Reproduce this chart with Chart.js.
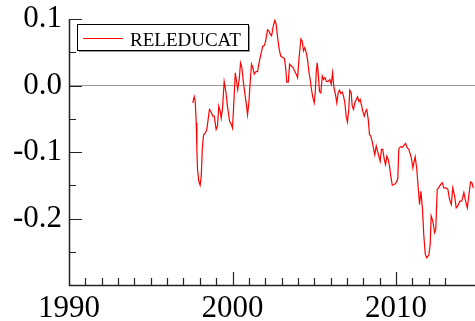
<!DOCTYPE html>
<html>
<head>
<meta charset="utf-8">
<script src="https://cdn.jsdelivr.net/npm/chart.js@4"></script>
<style>
  body { margin: 0; background: #fff; }
  #chart { display: block; }
</style>
</head>
<body>
<canvas id="chart" width="475" height="321"></canvas>
<script>
const SERIES_NAME = 'RELEDUCAT';

// decimal years
const years = [
  1997.57, 1997.66, 1997.72, 1997.78, 1997.82, 1997.86, 1997.94, 1998.02, 1998.09, 1998.15,
  1998.23, 1998.35, 1998.43, 1998.51, 1998.59, 1998.67, 1998.80, 1998.88, 1999.00, 1999.08,
  1999.16, 1999.25, 1999.31, 1999.39, 1999.49, 1999.59, 1999.69, 1999.82, 1999.94, 2000.00,
  2000.06, 2000.17, 2000.25, 2000.32, 2000.41, 2000.49, 2000.57, 2000.67, 2000.75, 2000.86,
  2000.92, 2001.00, 2001.08, 2001.16, 2001.24, 2001.33, 2001.43, 2001.53, 2001.61, 2001.69,
  2001.77, 2001.85, 2001.94, 2002.02, 2002.14, 2002.22, 2002.31, 2002.39, 2002.49, 2002.59,
  2002.67, 2002.75, 2002.86, 2002.95, 2003.08, 2003.18, 2003.26, 2003.32, 2003.41, 2003.49,
  2003.61, 2003.71, 2003.81, 2003.90, 2003.98, 2004.08, 2004.18, 2004.26, 2004.34, 2004.42,
  2004.51, 2004.59, 2004.67, 2004.75, 2004.83, 2004.91, 2005.00, 2005.06, 2005.12, 2005.18,
  2005.24, 2005.32, 2005.40, 2005.49, 2005.57, 2005.65, 2005.75, 2005.85, 2005.95, 2006.04,
  2006.12, 2006.20, 2006.30, 2006.38, 2006.46, 2006.54, 2006.62, 2006.71, 2006.79, 2006.87,
  2006.95, 2007.03, 2007.11, 2007.17, 2007.26, 2007.32, 2007.40, 2007.48, 2007.57, 2007.65,
  2007.73, 2007.81, 2007.89, 2007.97, 2008.06, 2008.14, 2008.21, 2008.30, 2008.38, 2008.46,
  2008.54, 2008.62, 2008.70, 2008.79, 2008.87, 2008.95, 2009.03, 2009.11, 2009.19, 2009.28,
  2009.36, 2009.44, 2009.52, 2009.60, 2009.68, 2009.77, 2009.89, 2010.01, 2010.11, 2010.17,
  2010.28, 2010.38, 2010.48, 2010.58, 2010.69, 2010.78, 2010.93, 2011.03, 2011.09, 2011.17,
  2011.27, 2011.38, 2011.44, 2011.52, 2011.62, 2011.70, 2011.79, 2011.88, 2012.01, 2012.09,
  2012.15, 2012.25, 2012.36, 2012.43, 2012.52, 2012.60, 2012.72, 2012.83, 2012.92, 2013.07,
  2013.17, 2013.27, 2013.38, 2013.47, 2013.58, 2013.68, 2013.78, 2013.90, 2014.02, 2014.15,
  2014.23, 2014.36, 2014.50, 2014.56, 2014.64, 2014.72
];

const values = [
  -0.026, -0.017, -0.024, -0.056, -0.096, -0.126, -0.144, -0.150, -0.136, -0.096,
  -0.074, -0.071, -0.066, -0.051, -0.036, -0.039, -0.046, -0.046, -0.066, -0.061,
  -0.031, -0.039, -0.049, -0.034, 0.006, -0.009, -0.031, -0.054, -0.059, -0.064,
  -0.036, 0.019, 0.006, -0.006, 0.009, 0.034, 0.027, 0.004, -0.011, -0.031,
  -0.044, -0.026, 0.004, 0.032, 0.027, 0.017, 0.021, 0.021, 0.032, 0.042,
  0.051, 0.059, 0.060, 0.066, 0.084, 0.082, 0.077, 0.075, 0.089, 0.098,
  0.092, 0.074, 0.054, 0.044, 0.042, 0.040, 0.024, 0.005, 0.005, 0.032,
  0.029, 0.027, 0.021, 0.017, 0.012, 0.044, 0.070, 0.067, 0.052, 0.057,
  0.049, 0.039, 0.021, 0.009, -0.006, -0.018, -0.026, -0.011, 0.019, 0.034,
  0.019, -0.009, -0.011, 0.014, 0.009, 0.012, 0.006, 0.006, 0.009, 0.002,
  0.019, -0.003, -0.014, -0.026, -0.011, -0.007, -0.012, -0.010, -0.016, -0.026,
  -0.046, -0.055, -0.036, -0.007, -0.011, -0.031, -0.036, -0.026, -0.021, -0.017,
  -0.024, -0.021, -0.030, -0.039, -0.046, -0.039, -0.036, -0.051, -0.074, -0.076,
  -0.084, -0.094, -0.104, -0.091, -0.099, -0.106, -0.114, -0.096, -0.096, -0.111,
  -0.119, -0.106, -0.111, -0.121, -0.136, -0.150, -0.149, -0.146, -0.140, -0.095,
  -0.092, -0.093, -0.090, -0.087, -0.094, -0.096, -0.108, -0.124, -0.116, -0.107,
  -0.126, -0.161, -0.179, -0.159, -0.186, -0.226, -0.254, -0.259, -0.255, -0.239,
  -0.196, -0.204, -0.221, -0.216, -0.156, -0.154, -0.149, -0.146, -0.154, -0.154,
  -0.156, -0.171, -0.179, -0.154, -0.166, -0.184, -0.181, -0.174, -0.174, -0.161,
  -0.171, -0.184, -0.156, -0.145, -0.146, -0.154
];

const xRange = [1990, 2014.83];
const yRange = [-0.3, 0.1];

const FONT = "'Liberation Serif', 'Times New Roman', serif";

function noPad(scale) {
  scale.paddingTop = 0;
  scale.paddingBottom = 0;
  scale.paddingLeft = 0;
  scale.paddingRight = 0;
}

// axis lines, inward tick marks and the boxed legend
const frame = {
  id: 'frame',
  afterDraw(chart) {
    const { ctx, chartArea: a, scales } = chart;
    ctx.save();
    ctx.strokeStyle = '#222';
    ctx.lineWidth = 1.5;
    ctx.beginPath();
    ctx.moveTo(a.left + 0.5, a.top);
    ctx.lineTo(a.left + 0.5, a.bottom + 0.5);
    ctx.lineTo(a.right, a.bottom + 0.5);
    ctx.stroke();

    ctx.lineWidth = 1.2;
    ctx.beginPath();
    scales.y.ticks.forEach(t => {
      const v = t.value;
      if (v <= yRange[0] + 1e-9) return;
      const major = Math.abs(v * 10 - Math.round(v * 10)) < 1e-6;
      const y = Math.round(scales.y.getPixelForValue(v)) + 0.5;
      ctx.moveTo(a.left, y);
      ctx.lineTo(a.left + (major ? 13 : 7), y);
    });
    scales.x.ticks.forEach(t => {
      const v = t.value;
      if (Math.abs(v - Math.round(v)) > 1e-6 || v <= xRange[0]) return;
      const major = Math.round(v) % 10 === 0;
      const x = Math.round(scales.x.getPixelForValue(v)) + 0.5;
      ctx.moveTo(x, a.bottom);
      ctx.lineTo(x, a.bottom - (major ? 13 : 7));
    });
    ctx.stroke();

    // legend
    const ds = chart.data.datasets[0];
    const bx = 77.5, by = 24.5, bw = 171, bh = 26;
    ctx.fillStyle = '#999';
    ctx.fillRect(bx + 1.5, by + 1.5, bw, bh);
    ctx.fillStyle = '#fff';
    ctx.fillRect(bx, by, bw, bh);
    ctx.strokeStyle = '#000';
    ctx.lineWidth = 1;
    ctx.strokeRect(bx, by, bw, bh);
    ctx.strokeStyle = ds.borderColor;
    ctx.lineWidth = 1.2;
    ctx.beginPath();
    ctx.moveTo(83, 38.5);
    ctx.lineTo(123, 38.5);
    ctx.stroke();
    ctx.fillStyle = '#000';
    ctx.font = '19px ' + FONT;
    ctx.textBaseline = 'alphabetic';
    ctx.fillText(ds.label, 130, 46);
    ctx.restore();
  }
};

new Chart(document.getElementById('chart'), {
  type: 'line',
  data: {
    datasets: [{
      label: SERIES_NAME,
      data: years.map((x, i) => ({ x: x, y: values[i] })),
      borderColor: '#ff0000',
      borderWidth: 1.2,
      pointRadius: 0,
      tension: 0,
      fill: false
    }]
  },
  options: {
    responsive: false,
    devicePixelRatio: 1,
    animation: false,
    layout: { padding: { top: 19, right: 0, left: 0, bottom: 0 } },
    plugins: { legend: { display: false }, tooltip: { enabled: false } },
    scales: {
      x: {
        type: 'linear',
        min: xRange[0],
        max: xRange[1],
        border: { display: false },
        grid: { display: false, drawTicks: false },
        afterFit(scale) { scale.height = 36; noPad(scale); },
        ticks: {
          stepSize: 1,
          autoSkip: false,
          maxRotation: 0,
          padding: 5,
          color: '#000',
          font: { family: FONT, size: 31 },
          callback: v => (Math.abs(v % 10) < 1e-6 ? String(Math.round(v)) : '')
        }
      },
      y: {
        min: yRange[0],
        max: yRange[1],
        border: { display: false },
        grid: {
          drawTicks: false,
          lineWidth: 1,
          color: ctx => (ctx.tick && Math.abs(ctx.tick.value) < 1e-9 ? '#9a9a9a' : 'rgba(0,0,0,0)')
        },
        afterFit(scale) { scale.width = 69; noPad(scale); },
        ticks: {
          stepSize: 0.05,
          autoSkip: false,
          padding: 7,
          color: '#000',
          font: { family: FONT, size: 31 },
          callback: v => {
            if (v <= yRange[0] + 1e-9) return '';
            return Math.abs(v * 10 - Math.round(v * 10)) < 1e-6 ? (Math.round(v * 10) / 10).toFixed(1) : '';
          }
        }
      }
    }
  },
  plugins: [frame]
});
</script>
</body>
</html>
